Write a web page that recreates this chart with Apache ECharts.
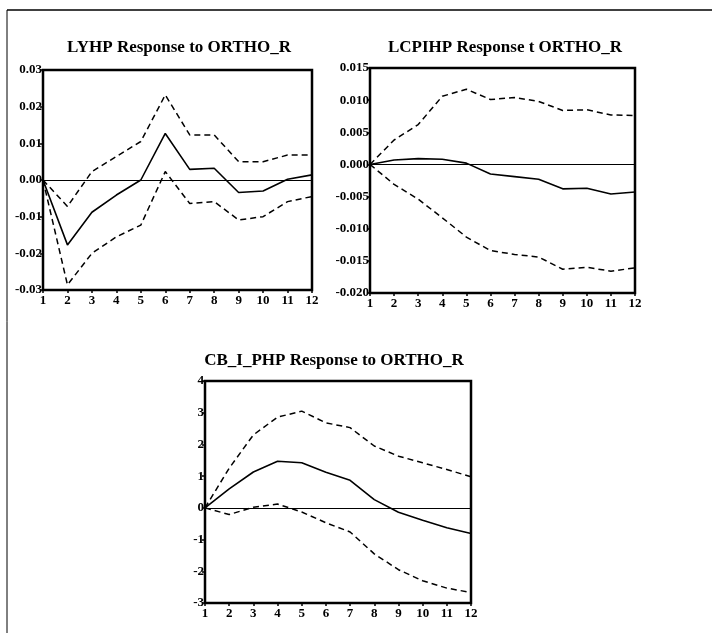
<!DOCTYPE html>
<html>
<head>
<meta charset="utf-8">
<script src="https://cdn.jsdelivr.net/npm/echarts@6/dist/echarts.min.js"></script>
<style>
  html, body { margin: 0; padding: 0; background: #fff; }
  #main { width: 712px; height: 633px; }
</style>
</head>
<body>
<div id="main"></div>
<script>
// periods 1..12
var periods = ['1', '2', '3', '4', '5', '6', '7', '8', '9', '10', '11', '12'];

var titles = ['LYHP Response to ORTHO_R', 'LCPIHP Response t ORTHO_R', 'CB_I_PHP Response to ORTHO_R'];

// LYHP
var lyhpResp  = [0, -0.0177, -0.0088, -0.0041, 0.0000, 0.0127, 0.0029, 0.0032, -0.0034, -0.0030, 0.0002, 0.0014];
var lyhpUpper = [0, -0.0072, 0.0023, 0.0064, 0.0105, 0.0232, 0.0123, 0.0123, 0.0050, 0.0050, 0.0068, 0.0068];
var lyhpLower = [0, -0.0286, -0.0200, -0.0155, -0.0123, 0.0023, -0.0064, -0.0059, -0.0109, -0.0100, -0.0059, -0.0045];

// LCPIHP
var lcpiResp  = [0, 0.0007, 0.0009, 0.0008, 0.0002, -0.0015, -0.0019, -0.0023, -0.0038, -0.0037, -0.0046, -0.0043];
var lcpiUpper = [0, 0.0038, 0.0062, 0.0106, 0.0117, 0.0101, 0.0104, 0.0098, 0.0084, 0.0085, 0.0077, 0.0076];
var lcpiLower = [0, -0.0031, -0.0054, -0.0083, -0.0113, -0.0134, -0.0140, -0.0144, -0.0163, -0.0160, -0.0166, -0.0161];

// CB_I_PHP
var cbResp  = [0, 0.60, 1.13, 1.47, 1.42, 1.12, 0.87, 0.26, -0.14, -0.39, -0.63, -0.81];
var cbUpper = [0, 1.25, 2.30, 2.86, 3.05, 2.68, 2.53, 1.95, 1.63, 1.42, 1.21, 0.98];
var cbLower = [0, -0.21, 0.02, 0.12, -0.13, -0.47, -0.76, -1.45, -1.95, -2.30, -2.53, -2.67];

// y ticks
var yTicks = [
  { min: -0.03, max: 0.03, interval: 0.01, dec: 2 },
  { min: -0.02, max: 0.015, interval: 0.005, dec: 3 },
  { min: -3, max: 4, interval: 1, dec: 0 }
];

var font = 'Liberation Serif';
var chart = echarts.init(document.getElementById('main'));

var grids = [
  { left: 43, top: 70, width: 269, height: 220 },
  { left: 370, top: 68, width: 265, height: 225 },
  { left: 205, top: 381, width: 266, height: 222 }
];

function xAxis(i) {
  return {
    type: 'category', gridIndex: i, data: periods, boundaryGap: false,
    axisLine: { show: false, onZero: false },
    axisTick: { show: true, length: 3, lineStyle: { color: '#000', width: 1.5 } },
    axisLabel: { color: '#000', fontFamily: font, fontWeight: 'bold', fontSize: 13, margin: 4, interval: 0 },
    splitLine: { show: false }
  };
}
function yAxis(i) {
  var t = yTicks[i];
  return {
    type: 'value', gridIndex: i, min: t.min, max: t.max, interval: t.interval,
    axisLine: { show: false, onZero: false },
    axisTick: { show: true, length: 3, lineStyle: { color: '#000', width: 1.5 } },
    axisLabel: {
      color: '#000', fontFamily: font, fontWeight: 'bold', fontSize: 13, margin: 1,
      formatter: function (v) { return (Math.abs(v) < 1e-9 ? 0 : v).toFixed(t.dec); }
    },
    splitLine: { show: false }
  };
}

var groups = [
  [lyhpResp, lyhpUpper, lyhpLower],
  [lcpiResp, lcpiUpper, lcpiLower],
  [cbResp, cbUpper, cbLower]
];

var series = [];
groups.forEach(function (g, i) {
  series.push({
    type: 'line', xAxisIndex: i, yAxisIndex: i, data: g[0], symbol: 'none',
    lineStyle: { color: '#000', width: 1.6 },
    markLine: {
      silent: true, symbol: 'none', label: { show: false },
      lineStyle: { color: '#000', width: 1.2, type: 'solid' },
      data: [{ yAxis: 0 }]
    }
  });
  [g[1], g[2]].forEach(function (d) {
    series.push({
      type: 'line', xAxisIndex: i, yAxisIndex: i, data: d, symbol: 'none',
      lineStyle: { color: '#000', width: 1.5, type: [6, 4] }
    });
  });
});

chart.setOption({
  backgroundColor: '#fff',
  animation: false,
  title: [
    { text: titles[0], left: 174, top: 34, textAlign: 'center' },
    { text: titles[1], left: 500, top: 34, textAlign: 'center' },
    { text: titles[2], left: 329, top: 347, textAlign: 'center' }
  ].map(function (t) {
    t.textStyle = { color: '#000', fontFamily: font, fontWeight: 'bold', fontSize: 17 };
    return t;
  }),
  grid: grids.map(function (g) {
    return Object.assign({ show: true, borderColor: '#000', borderWidth: 2.5, backgroundColor: 'transparent' }, g);
  }),
  xAxis: [xAxis(0), xAxis(1), xAxis(2)],
  yAxis: [yAxis(0), yAxis(1), yAxis(2)],
  series: series,
  graphic: [
    { type: 'line', shape: { x1: 7, y1: 10, x2: 712, y2: 10 }, style: { stroke: '#000', lineWidth: 1.5 } },
    { type: 'line', shape: { x1: 7, y1: 10, x2: 7, y2: 633 }, style: { stroke: '#000', lineWidth: 1 } }
  ]
});
</script>
</body>
</html>
